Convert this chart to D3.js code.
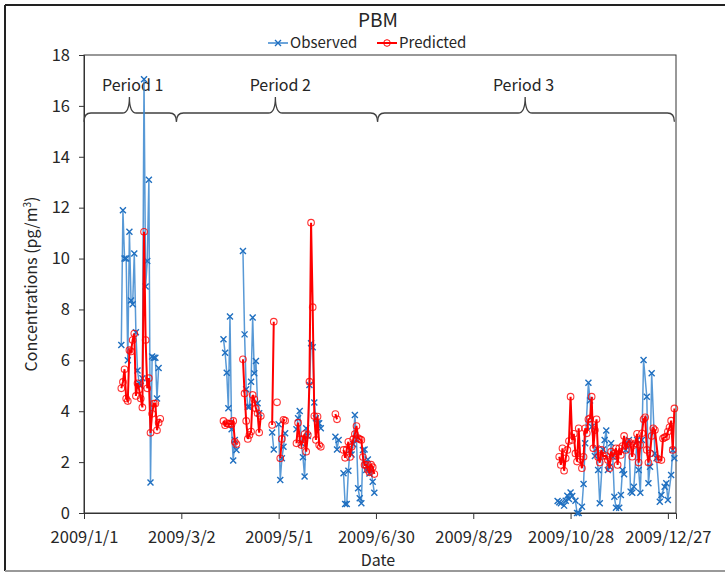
<!DOCTYPE html>
<html lang="en">
<head>
<meta charset="UTF-8">
<title>PBM</title>
<script src="https://d3js.org/d3.v7.min.js"></script>
<style>
  body { margin: 0; background: #fff; }
  text { font-family: "Noto Sans CJK SC", "Noto Sans", sans-serif; fill: #262626; }
</style>
</head>
<body>
<svg width="725" height="574"></svg>
<script>
// days counted from 2009/1/1, null marks a break in the line
const obsDays = [
  23,24,25,26,27,28,29,30,31,32,33,34,35,36,37,38,39,40,41,42,43,44,45,46, null,
  86,87,88,89,90,91,92,93,94, null,
  98,99,100,101,102,103,104,105,106,107,108, null,
  116,117, null,
  120,121,122,123,124, null,
  131,132,133,134,135,136,137,138,139,140,141,142,143,144,145,146, null,
  155,156,157, null,
  160,161,162,163,164,165,166,167,168,169,170,171,172,173,174,175,176,177,178,179, null,
  292,293,294,296,297,298,299,300,301,303,304,305,307,308,309,311,312,313,315,316,317,318,
  320,321,322,323,324,325,326,327,328,330,331,332,333,334,335,336,337,338,339,341,342,343,
  344,345,347,348,349,350,352,353,355,356,358,359,360,362,363,364
];
const obsValues = [
  6.6,11.9,10.0,10.0,6.0,11.05,8.35,8.2,10.2,7.1,5.6,5.1,5.0,5.3,17.05,8.9,9.9,13.1,1.2,6.15,6.1,6.1,4.5,5.7, null,
  6.83,6.3,5.51,4.12,7.72,3.29,2.06,2.87,2.48, null,
  10.3,7.02,4.86,4.18,4.18,5.16,7.68,5.49,5.97,4.31,3.92, null,
  3.16,2.5, null,
  3.49,1.3,2.15,2.6,3.13, null,
  3.29,3.72,4.01,2.74,2.19,1.43,3.33,3.03,5.03,6.67,6.51,4.34,3.72,3.53,3.53,3.33, null,
  3.0,2.5,2.87, null,
  1.56,0.35,0.35,1.66,2.48,2.3,2.7,3.85,2.9,0.97,0.58,0.38,2.48,2.5,1.69,2.1,1.55,1.69,1.23,0.8, null,
  0.47,0.42,0.38,0.29,0.48,0.68,0.55,0.81,0.67,0.48,0.0,0.0,0.25,1.14,2.74,5.12,4.42,3.39,2.24,2.54,1.69,0.38,
  2.5,2.87,3.24,1.69,1.82,2.74,2.21,0.64,0.21,0.21,0.71,1.69,1.52,2.48,2.74,2.87,0.84,0.8,1.03,2.87,1.69,0.8,
  2.87,6.01,4.57,1.17,1.82,5.49,2.34,2.15,0.44,0.71,1.03,1.17,0.51,1.49,2.48,2.15
];
const predDays = [
  23,24,25,26,27,28,29,30,31,32,33,34,35,36,37,38,39,40,41,42,43,44,45,46,47, null,
  86,87,88,89,90,91,92,93,94, null,
  98,99,100,101,102,103,104,105,106,107,108,109, null,
  116,117, null,
  119, null,
  121,122,123,124, null,
  131,132,133,134,135,136,137,138,139,140,141,142,143,144,145,146, null,
  155,156, null,
  160,161,162,163,164,165,166,167,168,169,170,171,172,173,174,175,176,177,178,179, null,
  293,294,295,296,297,298,299,300,301,302,303,304,305,306,307,308,309,310,311,312,313,314,315,316,317,318,319,320,
  322,323,324,325,326,327,328,329,330,331,332,333,334,335,336,337,338,339,340,341,342,343,344,345,346,347,348,349,
  350,351,352,354,356,357,358,359,360,361,362,363,364
];
const predValues = [
  4.9,5.15,5.65,4.5,4.4,6.4,6.35,6.8,7.05,4.6,5.1,4.85,4.5,4.15,11.05,6.8,4.9,5.3,3.15,3.9,4.3,4.3,3.25,3.55,3.7, null,
  3.62,3.45,3.53,3.5,3.5,3.5,3.62,2.8,2.71, null,
  6.04,4.7,3.62,2.91,3.07,3.2,4.64,4.47,4.11,3.92,3.16,3.81, null,
  3.46,7.52, null,
  4.35, null,
  2.15,2.91,3.66,3.63, null,
  2.74,3.55,2.9,2.67,2.9,3.1,2.41,3.07,5.16,11.41,8.09,3.81,2.87,3.79,2.67,2.6, null,
  3.89,3.68, null,
  2.48,2.17,2.5,2.8,2.2,2.6,2.9,3.1,3.42,2.94,2.9,2.87,2.2,1.89,1.9,1.7,1.6,1.9,1.8,1.53, null,
  2.21,1.89,2.54,1.66,2.15,2.48,2.83,4.57,2.87,3.11,2.34,2.02,3.33,2.11,1.76,2.21,3.33,3.13,3.68,3.72,4.57,2.54,3.26,3.68,2.2,1.98,2.48,2.24,
  2.24,2.08,1.76,2.41,2.24,2.34,2.54,1.89,2.54,2.28,2.63,3.03,2.48,2.74,2.8,2.71,2.21,2.67,2.74,3.11,1.98,2.67,3.13,3.68,3.76,2.48,1.98,2.34,
  3.03,3.33,3.26,2.11,2.08,2.93,2.97,3.0,3.2,3.37,3.63,2.48,4.11
];

const yTicks = [0, 2, 4, 6, 8, 10, 12, 14, 16, 18];
const xTickDays = [0, 60, 120, 180, 240, 300, 360];

// period braces, in days and concentration units
const periodNames = ['Period 1', 'Period 2', 'Period 3'];
const braceFrom = [0, 57, 181];
const braceTo = [57, 181, 364.5];
const braceTip = [28, 118, 272];
const labelDay = [30, 121, 271];

const start = new Date(2009, 0, 1);
const toDate = d => d3.timeDay.offset(start, d);

const svg = d3.select('svg');
const plotLeft = 84, plotRight = 676, plotTop = 55, plotBottom = 513;

const x = d3.scaleTime().domain([start, toDate(365)]).range([plotLeft, plotRight]);
const y = d3.scaleLinear().domain([0, 18]).range([plotBottom, plotTop]);

// outer chart frame
svg.append('line').attr('x1', 5).attr('x2', 725).attr('y1', 5).attr('y2', 5)
  .attr('stroke', '#222').attr('stroke-width', 2);
svg.append('line').attr('x1', 5).attr('x2', 5).attr('y1', 5).attr('y2', 571)
  .attr('stroke', '#222').attr('stroke-width', 2);
svg.append('line').attr('x1', 5).attr('x2', 725).attr('y1', 571).attr('y2', 571)
  .attr('stroke', '#999').attr('stroke-width', 2);

// plot area border
svg.append('rect').attr('x', plotLeft).attr('y', plotTop)
  .attr('width', plotRight - plotLeft).attr('height', plotBottom - plotTop)
  .attr('fill', 'none').attr('stroke', '#333').attr('stroke-width', 1);

// axes
const fmt = d => `${d.getFullYear()}/${d.getMonth() + 1}/${d.getDate()}`;
const xAxis = d3.axisBottom(x).tickValues(xTickDays.map(toDate)).tickFormat(fmt)
  .tickSize(6).tickPadding(12);
const gx = svg.append('g').attr('transform', `translate(0,${plotBottom})`).call(xAxis);
gx.select('.domain').attr('stroke', '#333');
gx.selectAll('.tick line').attr('stroke', '#333');
gx.selectAll('text').attr('font-size', 16.5).attr('fill', '#262626');

const yAxis = d3.axisLeft(y).tickValues(yTicks).tickSize(5).tickPadding(9);
const gy = svg.append('g').attr('transform', `translate(${plotLeft},0)`).call(yAxis);
gy.select('.domain').attr('stroke', '#333');
gy.selectAll('.tick line').attr('stroke', '#333');
gy.selectAll('text').attr('font-size', 16.5).attr('fill', '#262626');

// titles
svg.append('text').attr('x', 378).attr('y', 27).attr('text-anchor', 'middle')
  .attr('font-size', 19).text('PBM');
svg.append('text').attr('x', 378).attr('y', 566).attr('text-anchor', 'middle')
  .attr('font-size', 16).text('Date');
const yt = svg.append('text').attr('transform', 'translate(37,284) rotate(-90)')
  .attr('text-anchor', 'middle').attr('font-size', 16);
yt.append('tspan').text('Concentrations (pg/m');
yt.append('tspan').attr('font-size', 10).attr('dy', -6).text('3');
yt.append('tspan').attr('dy', 6).text(')');

// braces
function bracePath(x1, x2, xm, yl, yup, ydown) {
  const r = 7;
  return `M${x1},${ydown} Q${x1},${yl} ${x1 + r},${yl} L${xm - r},${yl} ` +
    `Q${xm},${yl} ${xm},${yup} Q${xm},${yl} ${xm + r},${yl} ` +
    `L${x2 - r},${yl} Q${x2},${yl} ${x2},${ydown}`;
}
periodNames.forEach((name, i) => {
  svg.append('path')
    .attr('d', bracePath(x(toDate(braceFrom[i])), x(toDate(braceTo[i])), x(toDate(braceTip[i])),
      y(15.72), y(16.35), y(15.38)))
    .attr('fill', 'none').attr('stroke', '#404040').attr('stroke-width', 1.3);
  svg.append('text').attr('x', x(toDate(labelDay[i]))).attr('y', y(16.8))
    .attr('dy', '0.35em').attr('text-anchor', 'middle').attr('font-size', 16)
    .attr('fill', '#404040').text(name);
});

// series
const obs = obsDays.map((d, i) => ({ d, v: obsValues[i] }));
const pred = predDays.map((d, i) => ({ d, v: predValues[i] }));
const line = d3.line().defined(p => p.v != null)
  .x(p => x(toDate(p.d))).y(p => y(p.v));

const blueLine = '#3b87cf', blueMark = '#1f6fc0', red = '#ff0000';

svg.append('path').datum(obs).attr('d', line)
  .attr('fill', 'none').attr('stroke', blueLine).attr('stroke-width', 1.5).attr('opacity', 0.85);
svg.append('g').selectAll('path').data(obs.filter(p => p.v != null)).enter().append('path')
  .attr('transform', p => `translate(${x(toDate(p.d))},${y(p.v)})`)
  .attr('d', 'M-3,-3L3,3M-3,3L3,-3')
  .attr('stroke', blueMark).attr('stroke-width', 1.4).attr('fill', 'none');

svg.append('path').datum(pred).attr('d', line)
  .attr('fill', 'none').attr('stroke', red).attr('stroke-width', 2);
svg.append('g').selectAll('circle').data(pred.filter(p => p.v != null)).enter().append('circle')
  .attr('cx', p => x(toDate(p.d))).attr('cy', p => y(p.v)).attr('r', 3.3)
  .attr('fill', 'none').attr('stroke', red).attr('stroke-width', 1.1).attr('opacity', 0.8);

// legend
const lg = svg.append('g').attr('transform', 'translate(0,43)');
lg.append('line').attr('x1', 268).attr('x2', 288).attr('stroke', blueLine).attr('stroke-width', 1.5);
lg.append('path').attr('transform', 'translate(278,0)').attr('d', 'M-3,-3L3,3M-3,3L3,-3')
  .attr('stroke', blueMark).attr('stroke-width', 1.4);
lg.append('text').attr('x', 290).attr('dy', '0.35em').attr('font-size', 15).text('Observed');
lg.append('line').attr('x1', 377).attr('x2', 397).attr('stroke', red).attr('stroke-width', 2);
lg.append('circle').attr('cx', 387).attr('r', 3.3).attr('fill', 'none').attr('stroke', red);
lg.append('text').attr('x', 399).attr('dy', '0.35em').attr('font-size', 15).text('Predicted');
</script>
</body>
</html>
